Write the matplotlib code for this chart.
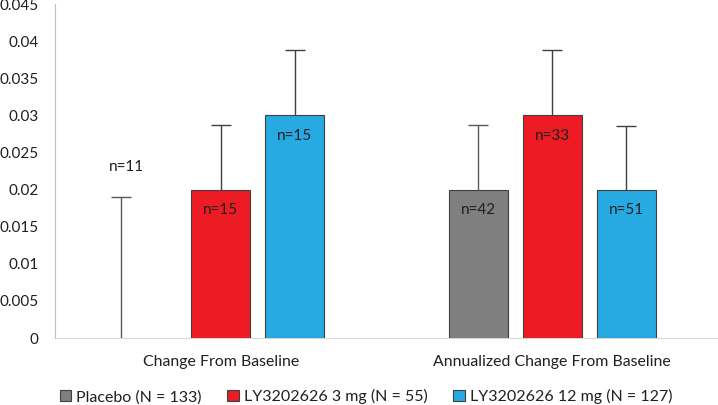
import matplotlib
matplotlib.use("Agg")
import matplotlib.pyplot as plt
import numpy as np

categories = ["Change From Baseline", "Annualized Change From Baseline"]
series = ["Placebo (N = 133)", "LY3202626 3 mg (N = 55)", "LY3202626 12 mg (N = 127)"]
values = {
    "Placebo (N = 133)": [0.0, 0.02],
    "LY3202626 3 mg (N = 55)": [0.02, 0.03],
    "LY3202626 12 mg (N = 127)": [0.03, 0.02],
}
err_top = {
    "Placebo (N = 133)": [0.019, 0.0287],
    "LY3202626 3 mg (N = 55)": [0.0287, 0.0388],
    "LY3202626 12 mg (N = 127)": [0.0388, 0.0286],
}
err_bottom = {
    "Placebo (N = 133)": [-0.001, None],
    "LY3202626 3 mg (N = 55)": [None, None],
    "LY3202626 12 mg (N = 127)": [None, None],
}
n_labels = {
    "Placebo (N = 133)": ["n=11", "n=42"],
    "LY3202626 3 mg (N = 55)": ["n=15", "n=33"],
    "LY3202626 12 mg (N = 127)": ["n=15", "n=51"],
}
colors = ["#7f7f7f", "#ed1c24", "#27aae1"]
yticks = [0, 0.005, 0.01, 0.015, 0.02, 0.025, 0.03, 0.035, 0.04, 0.045]
ytick_labels = ["0", "0.005", "0.01", "0.015", "0.02", "0.025", "0.03", "0.035", "0.04", "0.045"]

plt.rcParams['font.family'] = ['Lato', 'DejaVu Sans']
txt = "#1f1f1f"

fig = plt.figure(figsize=(7.18, 4.05), dpi=100)
ax = fig.add_axes([0.0766, 0.1654, 0.9234, 0.8246])

x = np.arange(len(categories))
width = 0.178
step = 0.223
for i, s in enumerate(series):
    xs = x + (i - 1) * step
    vals = values[s]
    for j in range(len(categories)):
        xj = xs[j]
        if vals[j] != 0:
            ax.bar(xj, vals[j], width, color=colors[i], edgecolor="#404040", linewidth=0.8,
                   label=s if j == 1 or i > 0 and j == 0 else None, zorder=2)
        else:
            xj = x[j] - 0.302
        top = err_top[s][j]
        bot = err_bottom[s][j] if err_bottom[s][j] is not None else vals[j]
        ecol = "#595959" if i == 0 else "#404040"
        ax.vlines(xj, bot, top, color=ecol, linewidth=1.0, zorder=3)
        ax.hlines(top, xj - 0.03, xj + 0.03, color=ecol, linewidth=1.0, zorder=3)
        if vals[j] == 0:
            ax.annotate(n_labels[s][j], (xj, top), xytext=(4.5, 21.5), textcoords="offset points",
                        ha="center", va="center", fontsize=11, color=txt)
        else:
            ax.annotate(n_labels[s][j], (xj, vals[j]), xytext=(0, -14.5), textcoords="offset points",
                        ha="center", va="center", fontsize=11, color=txt, zorder=4)

ax.set_xlim(-0.5, 1.5)
ax.set_ylim(0, 0.045)
ax.set_yticks(yticks)
ax.set_yticklabels(ytick_labels, fontsize=11, color=txt)
ax.set_xticks(x)
ax.set_xticklabels(categories, fontsize=11.4, color=txt)
ax.tick_params(axis="y", length=0, pad=12)
ax.tick_params(axis="x", length=0, pad=12)
for sp in ["top", "right"]:
    ax.spines[sp].set_visible(False)
ax.spines["left"].set_color("#bfbfbf")
ax.spines["bottom"].set_color("#d9d9d9")
ax.spines["bottom"].set_zorder(1)

handles, labels = ax.get_legend_handles_labels()
order = [labels.index(s) for s in series]
leg = fig.legend([handles[k] for k in order], [labels[k] for k in order],
                 loc="center", bbox_to_anchor=(0.51, 0.02), ncol=3, frameon=False,
                 fontsize=11.5, handlelength=0.7, handleheight=0.7, columnspacing=1.6,
                 handletextpad=0.35)
for t in leg.get_texts():
    t.set_color(txt)

fig.savefig("out.png", dpi=100)
